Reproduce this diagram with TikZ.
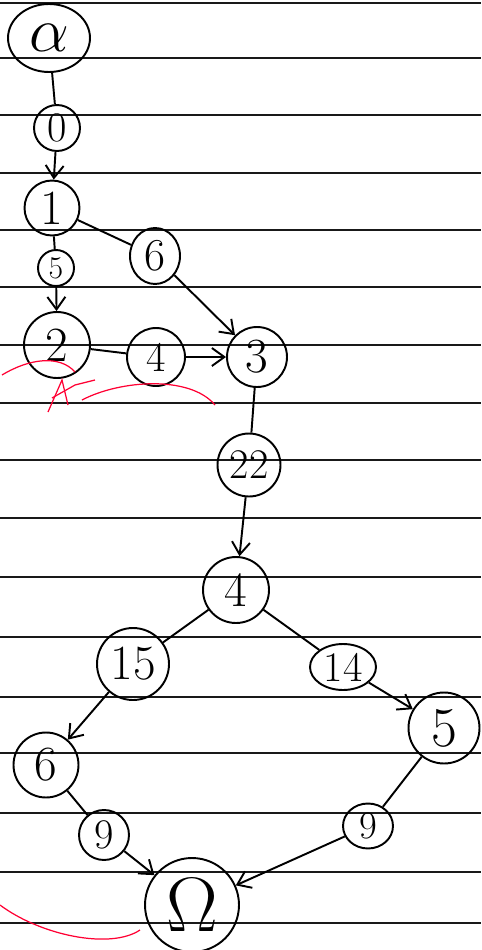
\RequirePackage{fix-cm}
\documentclass[tikz,border=0pt]{standalone}
\usetikzlibrary{arrows.meta,shapes.geometric}
\begin{document}
\begin{tikzpicture}[x=0.02cm,y=-0.02cm,
  paper/.style={black!90,line width=1.4pt},
  nd/.style={draw,circle,line width=1.1pt,inner sep=0pt,font=\fontsize{28}{32}\selectfont},
  wt/.style={draw,circle,line width=1.1pt,inner sep=0pt,font=\fontsize{24}{28}\selectfont},
  edge/.style={line width=1.1pt},
  arr/.style={line width=1.1pt,-{Straight Barb[length=0.25cm,width=0.36cm,line width=1.1pt]}},
  scrib/.style={red!80!magenta,line width=0.7pt}]
\useasboundingbox (0,0) rectangle (481,950);
% ruled paper
\foreach \yy in {3,58,115,173,230,287,345,403,460,518,577,637,697,753,813,872,923}
  \draw[paper] (0,\yy) -- (481,\yy);
% main nodes
\node[draw,ellipse,line width=1.1pt,minimum width=1.64cm,minimum height=1.36cm,font=\fontsize{36}{40}\selectfont] (alpha) at (49,38) {$\alpha$};
\node[nd,minimum size=1.1cm] (n1) at (52,208) {1};
\node[nd,minimum size=1.32cm] (n2) at (57,345) {2};
\node[nd,minimum size=1.2cm] (n3) at (257,357) {3};
\node[nd,minimum size=1.32cm] (n4) at (236,590) {4};
\node[nd,minimum size=1.3cm] (n6) at (46,765) {6};
\node[nd,minimum size=1.42cm,font=\fontsize{32}{36}\selectfont] (n5) at (444,728) {5};
\node[nd,minimum size=1.88cm,font=\fontsize{44}{48}\selectfont] (om) at (192,905) {$\Omega$};
% weight nodes
\node[wt,minimum size=0.92cm] (w0) at (57,128) {0};
\node[wt,minimum size=0.72cm,font=\fontsize{18}{20}\selectfont] (w5) at (56,268) {5};
\node[draw,ellipse,line width=1.1pt,inner sep=0pt,minimum width=1.0cm,minimum height=1.12cm,font=\fontsize{26}{30}\selectfont] (w6) at (155,256) {6};
\node[wt,minimum size=1.16cm] (w4) at (156,357) {4};
\node[wt,minimum size=1.26cm,font=\fontsize{24}{28}\selectfont] (w22) at (249,465) {22};
\node[wt,minimum size=1.44cm,font=\fontsize{28}{32}\selectfont] (w15) at (133,664) {15};
\node[draw,ellipse,line width=1.1pt,inner sep=0pt,minimum width=1.32cm,minimum height=0.92cm,font=\fontsize{24}{28}\selectfont] (w14) at (343,667) {14};
\node[wt,minimum size=1.0cm,font=\fontsize{24}{28}\selectfont] (w9l) at (104,835) {9};
\node[draw,ellipse,line width=1.1pt,inner sep=0pt,minimum width=1.0cm,minimum height=0.9cm,font=\fontsize{22}{26}\selectfont] (w9r) at (368,826) {9};
% connectors
\draw[edge] (alpha) -- (w0);
\draw[arr] (w0) -- (n1);
\draw[edge] (n1) -- (w5);
\draw[arr] (w5) -- (n2);
\draw[edge] (n1) -- (w6);
\draw[arr] (w6) -- (n3);
\draw[edge] (n2) -- (w4);
\draw[arr] (w4) -- (n3);
\draw[edge] (n3) -- (w22);
\draw[arr] (w22) -- (n4);
\draw[edge] (n4) -- (w15);
\draw[arr] (w15) -- (n6);
\draw[edge] (n4) -- (w14);
\draw[arr] (w14) -- (n5);
\draw[edge] (n6) -- (w9l);
\draw[arr] (w9l) -- (om);
\draw[edge] (n5) -- (w9r);
\draw[arr] (w9r) -- (om);
% red scribbles
\draw[scrib] (2,375) .. controls (30,358) and (60,355) .. (75,372);
\draw[scrib] (48,412) -- (62,380) -- (68,405);
\draw[scrib] (52,398) -- (75,385) -- (95,380);
\draw[scrib] (82,400) .. controls (120,380) and (190,375) .. (215,405);
\draw[scrib] (0,905) .. controls (40,935) and (110,950) .. (140,930);
\end{tikzpicture}
\end{document}
